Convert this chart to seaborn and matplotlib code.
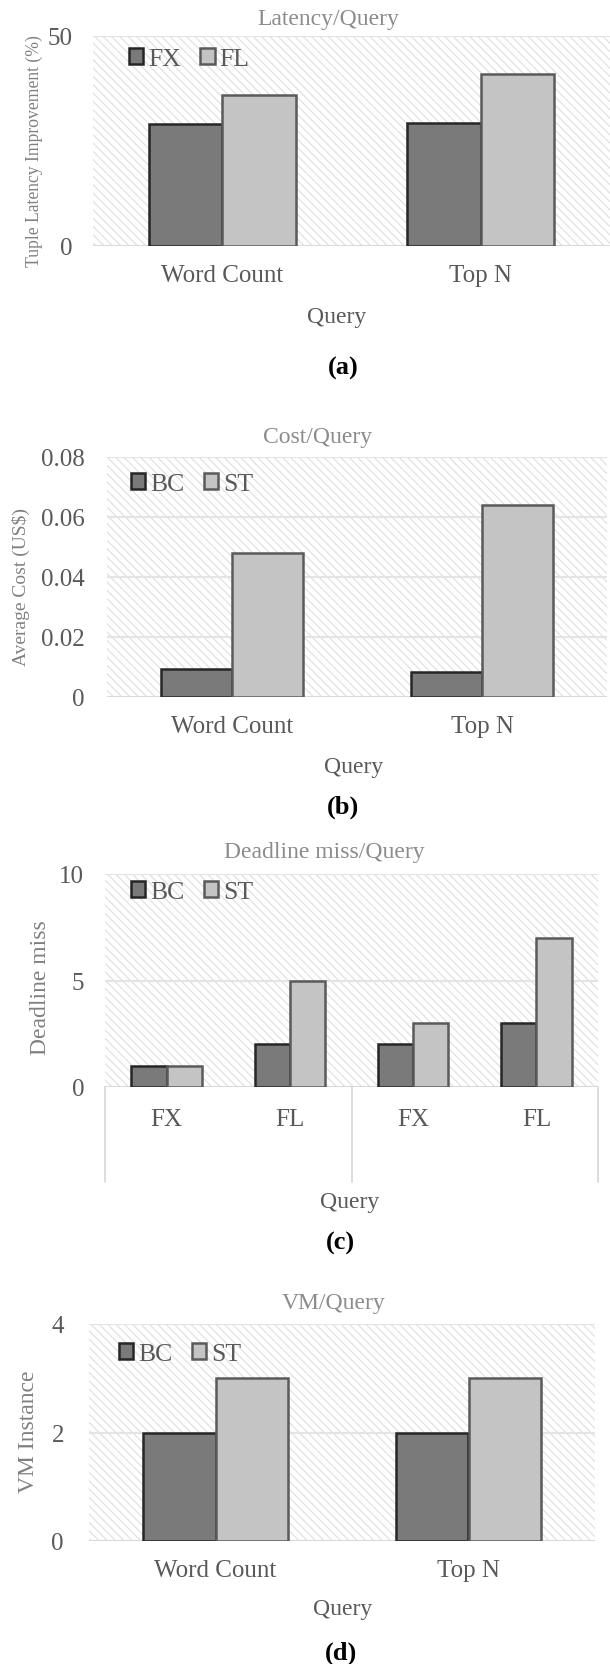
import numpy as np
import pandas as pd
import matplotlib
matplotlib.use("Agg")
import matplotlib.pyplot as plt
import matplotlib.transforms as mtransforms
from matplotlib.patches import Rectangle
import seaborn as sns

# ---- data -------------------------------------------------------------
queries = ["Word Count", "Top N"]

latency_series = ["FX", "FL"]
latency_fx = [28.9, 29.2]
latency_fl = [35.9, 40.8]

cost_series = ["BC", "ST"]
cost_bc = [0.0095, 0.0085]
cost_st = [0.048, 0.064]

miss_series = ["BC", "ST"]
miss_modes = ["FX", "FL", "FX", "FL"]
miss_groups = ["Word Count", "Word Count", "Top N", "Top N"]
miss_bc = [1, 2, 2, 3]
miss_st = [1, 5, 3, 7]

vm_series = ["BC", "ST"]
vm_bc = [2, 2]
vm_st = [3, 3]

# ---- style ------------------------------------------------------------
sns.set_theme(style="white")
plt.rcParams["font.family"] = ["Liberation Serif", "DejaVu Serif"]
plt.rcParams["hatch.linewidth"] = 0.9

W, H = 610, 1665
DARK_FILL, LIGHT_FILL = "#7a7a7a", "#c4c4c4"
DARK_EDGE, LIGHT_EDGE = "#262626", "#5a5a5a"
TICK_C = "#595959"
TITLE_C = "#8c8c8c"
LABEL_C = "#808080"
GRID_C = "#e4e4e4"
HATCH_C = "#e2e2e2"
TICK_FS = 18
LEGEND_FS = 18.5

fig = plt.figure(figsize=(W / 100, H / 100), dpi=100)


def px_axes(left, top, right, bottom):
    return fig.add_axes([left / W, 1 - bottom / H, (right - left) / W, (bottom - top) / H])


def ftext(x, y, s, **kw):
    fig.text(x / W, 1 - y / H, s, ha="center", va="center", **kw)


def draw_panel(ax, df, order, series, ylim, yticks, ytick_labels, ypad, xpad):
    ax.add_patch(Rectangle((0, 0), 1, 1, transform=ax.transAxes, facecolor="white",
                           edgecolor=HATCH_C, hatch="\\\\\\\\", lw=0, zorder=0.1))
    sns.barplot(data=df, x="cat", y="value", hue="series", order=order,
                hue_order=series, palette=[DARK_FILL, LIGHT_FILL], width=0.57,
                linewidth=1.8, saturation=1, ax=ax, zorder=3)
    for cont, ec in zip(ax.containers, [DARK_EDGE, LIGHT_EDGE]):
        for bar in cont:
            bar.set_edgecolor(ec)
    ax.set_ylim(*ylim)
    ax.set_yticks(yticks)
    ax.set_yticklabels(ytick_labels)
    ax.set_xlim(-0.5, len(order) - 0.5)
    ax.set_xlabel("")
    ax.set_ylabel("")
    for sp in ax.spines.values():
        sp.set_visible(False)
    ax.set_axisbelow(True)
    ax.yaxis.grid(True, color=GRID_C, lw=1.6, zorder=0.5)
    ax.axhline(0, color="#d6d6d6", lw=1.8, zorder=2)
    ax.tick_params(axis="y", length=0, pad=ypad, labelsize=TICK_FS, labelcolor=TICK_C)
    ax.tick_params(axis="x", length=0, pad=xpad, labelsize=TICK_FS, labelcolor=TICK_C)
    ax.get_legend().remove()


def add_legend(ax, series, x, y):
    handles = [ax.containers[0][0], ax.containers[1][0]]
    ax.legend(handles, series, loc="center left",
              bbox_to_anchor=(x / W, 1 - y / H), bbox_transform=fig.transFigure,
              ncol=2, frameon=False, fontsize=LEGEND_FS, handlelength=0.55,
              handleheight=0.6, handletextpad=0.2, columnspacing=0.75,
              borderpad=0, borderaxespad=0, labelcolor=TICK_C)


# ---- (a) latency ------------------------------------------------------
df_a = pd.DataFrame({
    "cat": queries * 2,
    "series": [latency_series[0]] * 2 + [latency_series[1]] * 2,
    "value": latency_fx + latency_fl,
})
ax_a = px_axes(93, 36.7, 610, 246.7)
draw_panel(ax_a, df_a, queries, latency_series, (0, 50), [0, 50], ["0", "50"], 15, 13)
add_legend(ax_a, latency_series, 129, 60)
ftext(328, 20, "Latency/Query", fontsize=17, color=TITLE_C)
ftext(34, 151, "Tuple Latency Improvement (%)", fontsize=12.7, color=LABEL_C, rotation=90)
ftext(337, 318, "Query", fontsize=17, color=TICK_C)
ftext(343, 368, "(a)", fontsize=19, fontweight="bold", color="black")

# ---- (b) cost ---------------------------------------------------------
df_b = pd.DataFrame({
    "cat": queries * 2,
    "series": [cost_series[0]] * 2 + [cost_series[1]] * 2,
    "value": cost_bc + cost_st,
})
ax_b = px_axes(107, 458, 607, 698)
draw_panel(ax_b, df_b, queries, cost_series, (0, 0.08),
           [0, 0.02, 0.04, 0.06, 0.08], ["0", "0.02", "0.04", "0.06", "0.08"], 16, 13)
add_legend(ax_b, cost_series, 131, 485)
ftext(318, 438, "Cost/Query", fontsize=17, color=TITLE_C)
ftext(21, 587, "Average Cost (US$)", fontsize=14, color=LABEL_C, rotation=90)
ftext(354, 767, "Query", fontsize=17, color=TICK_C)
ftext(343, 807, "(b)", fontsize=19, fontweight="bold", color="black")

# ---- (c) deadline miss ------------------------------------------------
miss_keys = [f"{g} {m}" for g, m in zip(miss_groups, miss_modes)]
df_c = pd.DataFrame({
    "cat": miss_keys * 2,
    "series": [miss_series[0]] * 4 + [miss_series[1]] * 4,
    "value": miss_bc + miss_st,
})
ax_c = px_axes(105, 875, 598, 1088)
draw_panel(ax_c, df_c, miss_keys, miss_series, (0, 10), [0, 5, 10], ["0", "5", "10"], 15, 15)
ax_c.set_xticks(range(len(miss_modes)))
ax_c.set_xticklabels(miss_modes)
sep_tr = mtransforms.blended_transform_factory(ax_c.transAxes, ax_c.transAxes)
sep_depth = (1183 - 1088) / (1088 - 875)
for xs in (0.0, 0.5, 1.0):
    ax_c.plot([xs, xs], [0, -sep_depth], color="#d9d9d9", lw=1.3,
              transform=sep_tr, clip_on=False, zorder=1)
add_legend(ax_c, miss_series, 131, 893)
ftext(324, 853, "Deadline miss/Query", fontsize=17, color=TITLE_C)
ftext(41, 988, "Deadline miss", fontsize=17, color=LABEL_C, rotation=90)
ftext(350, 1203, "Query", fontsize=17, color=TICK_C)
ftext(340, 1243, "(c)", fontsize=19, fontweight="bold", color="black")

# ---- (d) VM instances -------------------------------------------------
df_d = pd.DataFrame({
    "cat": queries * 2,
    "series": [vm_series[0]] * 2 + [vm_series[1]] * 2,
    "value": vm_bc + vm_st,
})
ax_d = px_axes(89, 1325, 595, 1542)
draw_panel(ax_d, df_d, queries, vm_series, (0, 4), [0, 2, 4], ["0", "2", "4"], 18, 13)
add_legend(ax_d, vm_series, 119, 1355)
ftext(334, 1303, "VM/Query", fontsize=17, color=TITLE_C)
ftext(29, 1432, "VM Instance", fontsize=17, color=LABEL_C, rotation=90)
ftext(343, 1610, "Query", fontsize=17, color=TICK_C)
ftext(341, 1653, "(d)", fontsize=19, fontweight="bold", color="black")

fig.savefig("out.png", dpi=100, facecolor="white")
